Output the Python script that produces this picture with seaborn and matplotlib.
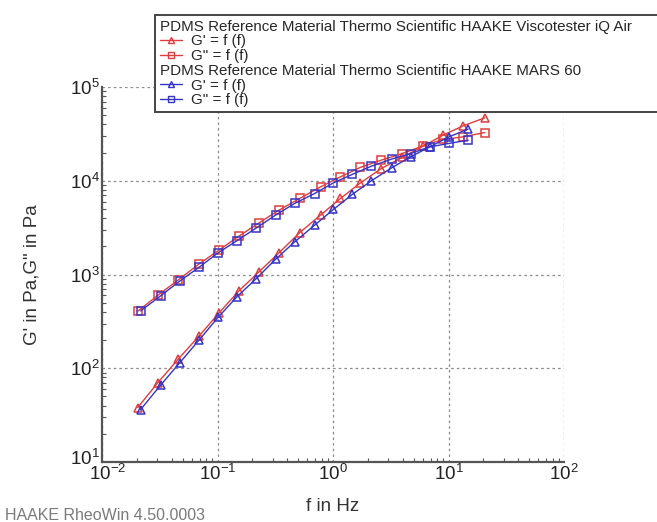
import numpy as np
import pandas as pd
import matplotlib
matplotlib.use("Agg")
import matplotlib.pyplot as plt
from matplotlib.lines import Line2D
from matplotlib.transforms import ScaledTranslation
from matplotlib.ticker import LogLocator, LogFormatterSciNotation, NullFormatter
import seaborn as sns

# ---- data ----
f_iq = [0.0204, 0.0305, 0.0454, 0.069, 0.103, 0.153, 0.229, 0.340, 0.515,
        0.78, 1.16, 1.73, 2.62, 3.99, 6.03, 8.98, 13.4, 20.6]
gp_iq = [38.1, 70.4, 124, 220, 389, 668, 1070, 1700, 2800, 4300, 6470, 9500,
         13500, 17800, 23400, 30700, 38500, 46900]
gpp_iq = [406, 601, 869, 1290, 1820, 2560, 3560, 4850, 6470, 8610, 11000,
          13900, 16600, 19500, 23600, 27600, 29400, 32700]

f_mars = [0.0216, 0.0321, 0.047, 0.069, 0.101, 0.147, 0.217, 0.318, 0.466,
          0.693, 1.01, 1.47, 2.15, 3.21, 4.69, 6.89, 10.1, 14.8]
gp_mars = [36.3, 65.9, 114, 199, 348, 577, 906, 1450, 2230, 3360, 4950, 7150,
           10000, 13700, 18000, 23000, 29400, 35600]
gpp_mars = [409, 591, 849, 1190, 1700, 2290, 3140, 4300, 5730, 7310, 9500,
            11700, 14300, 17000, 19500, 23000, 25000, 27100]

x_ticks = [1e-2, 1e-1, 1e0, 1e1, 1e2]
y_ticks = [1e1, 1e2, 1e3, 1e4, 1e5]

header_iq = "PDMS Reference Material Thermo Scientific HAAKE Viscotester iQ Air"
header_mars = "PDMS Reference Material Thermo Scientific HAAKE MARS 60"
lab_gp = "G' = f (f)"
lab_gpp = 'G" = f (f)'

RED = "#e23c3c"
BLUE = "#3434c8"

sns.set_style("ticks")
plt.rcParams["font.family"] = ["Liberation Sans", "DejaVu Sans"]
plt.rcParams["mathtext.fontset"] = "custom"
plt.rcParams["mathtext.rm"] = "Liberation Sans"
plt.rcParams["mathtext.it"] = "Liberation Sans:italic"
plt.rcParams["mathtext.bf"] = "Liberation Sans:bold"

fig = plt.figure(figsize=(6.57, 5.22), dpi=100)
ax = fig.add_axes([102 / 657, 1 - 462 / 522, (564 - 102) / 657, (462 - 87) / 522])

series = [
    (f_iq, gp_iq, RED, "^"),
    (f_iq, gpp_iq, RED, "s"),
    (f_mars, gp_mars, BLUE, "^"),
    (f_mars, gpp_mars, BLUE, "s"),
]
for fx, gy, col, mk in series:
    df = pd.DataFrame({"f": fx, "G": gy})
    sns.lineplot(data=df, x="f", y="G", ax=ax, color=col, lw=1.0, marker=mk,
                 markersize=5.5, markerfacecolor="none", markeredgecolor=col,
                 markeredgewidth=1.1, sort=False, estimator=None, legend=False)

ax.set_xscale("log")
ax.set_yscale("log")
ax.set_xlim(x_ticks[0], x_ticks[-1])
ax.set_ylim(y_ticks[0], y_ticks[-1])
ax.set_xticks(x_ticks)
ax.set_yticks(y_ticks)
ax.xaxis.set_minor_locator(LogLocator(base=10, subs=np.arange(2, 10), numticks=20))
ax.yaxis.set_minor_locator(LogLocator(base=10, subs=np.arange(2, 10), numticks=20))
ax.xaxis.set_major_formatter(LogFormatterSciNotation())
ax.yaxis.set_major_formatter(LogFormatterSciNotation())
ax.xaxis.set_minor_formatter(NullFormatter())
ax.yaxis.set_minor_formatter(NullFormatter())

ax.grid(True, which="major", color="#888888", linestyle=(0, (2, 2.5)), lw=0.9)
for s in ["top", "right"]:
    ax.spines[s].set_visible(False)
for s in ["left", "bottom"]:
    ax.spines[s].set_color("#555555")
    ax.spines[s].set_linewidth(1.6)
ax.tick_params(which="major", direction="in", length=0, labelsize=13.5,
               labelcolor="#222222", pad=1.5)
ax.tick_params(which="minor", direction="in", length=3, width=0.8,
               color="#555555")

ax.set_xlabel("f in Hz", fontsize=13.5, color="#333333", labelpad=10)
ax.set_ylabel('G\' in Pa,G" in Pa', fontsize=13.5, color="#333333", labelpad=21)

# nudge the two corner tick labels apart, as in the reference
fig.canvas.draw()
xl = ax.xaxis.get_major_ticks()[0].label1
xl.set_transform(xl.get_transform() + ScaledTranslation(6 / 100, 0, fig.dpi_scale_trans))
yl = ax.yaxis.get_major_ticks()[0].label1
yl.set_transform(yl.get_transform() + ScaledTranslation(0, 5 / 100, fig.dpi_scale_trans))

# legend
handles = [
    Line2D([], [], color="none"),
    Line2D([], [], color=RED, lw=1, marker="^", ms=4.5, mfc="none", mec=RED),
    Line2D([], [], color=RED, lw=1, marker="s", ms=4.5, mfc="none", mec=RED),
    Line2D([], [], color="none"),
    Line2D([], [], color=BLUE, lw=1, marker="^", ms=4.5, mfc="none", mec=BLUE),
    Line2D([], [], color=BLUE, lw=1, marker="s", ms=4.5, mfc="none", mec=BLUE),
]
labels = [header_iq, lab_gp, lab_gpp, header_mars, lab_gp, lab_gpp]
leg = fig.legend(handles, labels, loc="upper left",
                 bbox_to_anchor=(155 / 657, 1 - 15 / 522, 0.85, 0),
                 bbox_transform=fig.transFigure, mode="expand", fontsize=10.9,
                 frameon=True, fancybox=False, framealpha=1, edgecolor="#444444",
                 borderpad=0.3, labelspacing=0.05, handlelength=1.5,
                 handletextpad=0.6, borderaxespad=0)
leg.get_frame().set_linewidth(1.4)
try:
    col = leg._legend_handle_box.get_children()[0]
    for i, row in enumerate(col.get_children()):
        if i in (0, 3):
            da = row.get_children()[0]
            da.width = 0
            row.sep = 0
except Exception:
    pass

fig.text(5 / 657, 1 - 515 / 522, "HAAKE RheoWin 4.50.0003", fontsize=11.5,
         color="#7a7a7a", va="center", ha="left")

fig.savefig("out.png", dpi=100)
